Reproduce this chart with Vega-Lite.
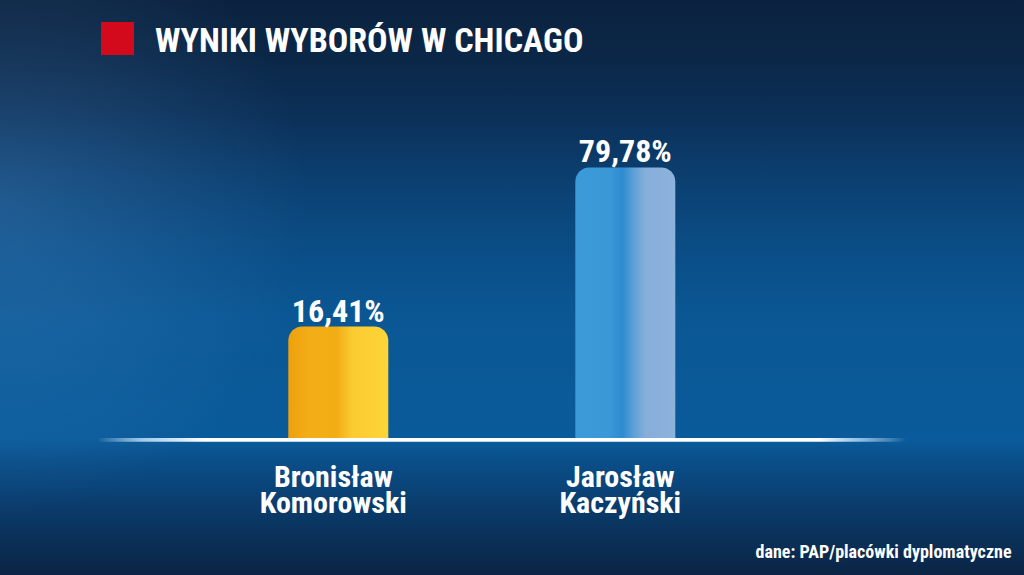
{
  "$schema": "https://vega.github.io/schema/vega-lite/v6.json",
  "width": 1024,
  "height": 575,
  "autosize": "none",
  "padding": 0,
  "background": "#0a2850",
  "title": {
    "text": "WYNIKI WYBORÓW W CHICAGO",
    "anchor": "start",
    "frame": "group",
    "offset": -86,
    "baseline": "alphabetic",
    "dx": 155,
    "font": "Roboto Condensed, DejaVu Sans Condensed, sans-serif",
    "fontSize": 34,
    "fontWeight": "bold",
    "color": "#ffffff"
  },
  "config": {
    "view": {"stroke": null},
    "axisX": {
      "domain": false,
      "ticks": false,
      "grid": false
    }
  },
  "data": {
    "values": [
      {"name": "Bronisław Komorowski", "pct": 16.41, "label": "16,41%"},
      {"name": "Jarosław Kaczyński", "pct": 79.78, "label": "79,78%"}
    ]
  },
  "layer": [
    {
      "data": {"values": [{"part": "background"}]},
      "mark": {
        "type": "rect",
        "fill": {
          "x1": 0, "y1": 0, "x2": 0, "y2": 1,
          "gradient": "linear",
          "stops": [
            {"offset": 0, "color": "#0b223f"},
            {"offset": 0.1, "color": "#0b2747"},
            {"offset": 0.2, "color": "#0b3058"},
            {"offset": 0.3, "color": "#0b3e6e"},
            {"offset": 0.42, "color": "#0a4c84"},
            {"offset": 0.55, "color": "#0a5794"},
            {"offset": 0.765, "color": "#0a5b9b"},
            {"offset": 0.8, "color": "#0a4f8a"},
            {"offset": 0.88, "color": "#0a3c6c"},
            {"offset": 1, "color": "#0a2444"}
          ]
        }
      },
      "encoding": {}
    },
    {
      "data": {"values": [{"part": "glow"}]},
      "mark": {
        "type": "rect",
        "fill": {
          "gradient": "radial",
          "x1": 0.0, "y1": 0.42, "r1": 0,
          "x2": 0.0, "y2": 0.42, "r2": 0.3,
          "stops": [
            {"offset": 0, "color": "rgba(110,170,230,0.22)"},
            {"offset": 1, "color": "rgba(110,170,230,0)"}
          ]
        }
      },
      "encoding": {}
    },
    {
      "transform": [{"filter": "datum.name === 'Bronisław Komorowski'"}],
      "mark": {
        "type": "bar",
        "cornerRadiusTopLeft": 14,
        "cornerRadiusTopRight": 14,
        "fill": {
          "x1": 0, "y1": 0, "x2": 1, "y2": 0,
          "gradient": "linear",
          "stops": [
            {"offset": 0, "color": "#eea00e"},
            {"offset": 0.2, "color": "#f3ad16"},
            {"offset": 0.48, "color": "#f2ac14"},
            {"offset": 0.64, "color": "#fbcb32"},
            {"offset": 1, "color": "#fdd537"}
          ]
        }
      },
      "encoding": {
        "x": {
          "field": "name", "type": "nominal", "sort": null,
          "scale": {"domain": ["Bronisław Komorowski", "Jarosław Kaczyński"], "range": [1.3, 962.3], "paddingInner": 0.6516, "paddingOuter": 1, "align": 0.5},
          "axis": {
            "orient": "bottom", "offset": -135, "labelAngle": 0, "zindex": 1,
            "labelExpr": "split(datum.label, ' ')",
            "labelFont": "Roboto Condensed, DejaVu Sans Condensed, sans-serif",
            "labelFontSize": 30, "labelFontWeight": "bold", "labelColor": "#ffffff",
            "labelPadding": 22, "labelLineHeight": 26, "labelLimit": 0, "labelOffset": -5,
            "title": "dane: PAP/placówki dyplomatyczne",
            "titleFont": "Roboto Condensed, DejaVu Sans Condensed, sans-serif",
            "titleFontSize": 18, "titleFontWeight": "bold", "titleColor": "#ffffff",
            "titleX": 1011, "titleY": 117, "titleAlign": "right", "titleBaseline": "alphabetic", "titleAnchor": "end"
          }
        },
        "y": {
          "field": "pct", "type": "quantitative",
          "scale": {"type": "pow", "exponent": 0.554, "domain": [-22.44, 189.4], "nice": false, "zero": false},
          "axis": null
        },
        "y2": {"datum": 0}
      }
    },
    {
      "transform": [{"filter": "datum.name === 'Jarosław Kaczyński'"}],
      "mark": {
        "type": "bar",
        "cornerRadiusTopLeft": 14,
        "cornerRadiusTopRight": 14,
        "fill": {
          "x1": 0, "y1": 0, "x2": 1, "y2": 0,
          "gradient": "linear",
          "stops": [
            {"offset": 0, "color": "#3b9ad8"},
            {"offset": 0.35, "color": "#3a98d6"},
            {"offset": 0.47, "color": "#2d8cd1"},
            {"offset": 0.58, "color": "#5c9fd6"},
            {"offset": 0.7, "color": "#86aed9"},
            {"offset": 1, "color": "#8db3dc"}
          ]
        }
      },
      "encoding": {
        "x": {
          "field": "name", "type": "nominal", "sort": null,
          "scale": {"domain": ["Bronisław Komorowski", "Jarosław Kaczyński"], "range": [1.3, 962.3], "paddingInner": 0.6516, "paddingOuter": 1, "align": 0.5},
          "axis": {
            "orient": "bottom", "offset": -135, "labelAngle": 0, "zindex": 1,
            "labelExpr": "split(datum.label, ' ')",
            "labelFont": "Roboto Condensed, DejaVu Sans Condensed, sans-serif",
            "labelFontSize": 30, "labelFontWeight": "bold", "labelColor": "#ffffff",
            "labelPadding": 22, "labelLineHeight": 26, "labelLimit": 0, "labelOffset": -5,
            "title": "dane: PAP/placówki dyplomatyczne",
            "titleFont": "Roboto Condensed, DejaVu Sans Condensed, sans-serif",
            "titleFontSize": 18, "titleFontWeight": "bold", "titleColor": "#ffffff",
            "titleX": 1011, "titleY": 117, "titleAlign": "right", "titleBaseline": "alphabetic", "titleAnchor": "end"
          }
        },
        "y": {
          "field": "pct", "type": "quantitative",
          "scale": {"type": "pow", "exponent": 0.554, "domain": [-22.44, 189.4], "nice": false, "zero": false},
          "axis": null
        },
        "y2": {"datum": 0}
      }
    },
    {
      "data": {"values": [{"part": "baseline"}]},
      "mark": {
        "type": "rect",
        "fill": {
          "x1": 0, "y1": 0, "x2": 1, "y2": 0,
          "gradient": "linear",
          "stops": [
            {"offset": 0, "color": "rgba(255,255,255,0)"},
            {"offset": 0.095, "color": "rgba(255,255,255,0)"},
            {"offset": 0.14, "color": "rgba(200,230,255,0.8)"},
            {"offset": 0.2, "color": "#ffffff"},
            {"offset": 0.8, "color": "#ffffff"},
            {"offset": 0.84, "color": "rgba(200,230,255,0.7)"},
            {"offset": 0.885, "color": "rgba(255,255,255,0)"},
            {"offset": 1, "color": "rgba(255,255,255,0)"}
          ]
        }
      },
      "encoding": {
        "y": {"datum": 0.012, "type": "quantitative", "axis": null},
        "y2": {"datum": -0.008}
      }
    },
    {
      "mark": {
        "type": "text",
        "font": "Roboto Condensed, DejaVu Sans Condensed, sans-serif",
        "fontSize": 32,
        "fontWeight": "bold",
        "color": "#ffffff",
        "baseline": "alphabetic",
        "dy": -5
      },
      "encoding": {
        "x": {
          "field": "name", "type": "nominal", "sort": null,
          "scale": {"domain": ["Bronisław Komorowski", "Jarosław Kaczyński"], "range": [1.3, 962.3], "paddingInner": 0.6516, "paddingOuter": 1, "align": 0.5},
          "axis": {
            "orient": "bottom", "offset": -135, "labelAngle": 0, "zindex": 1,
            "labelExpr": "split(datum.label, ' ')",
            "labelFont": "Roboto Condensed, DejaVu Sans Condensed, sans-serif",
            "labelFontSize": 30, "labelFontWeight": "bold", "labelColor": "#ffffff",
            "labelPadding": 22, "labelLineHeight": 26, "labelLimit": 0, "labelOffset": -5,
            "title": "dane: PAP/placówki dyplomatyczne",
            "titleFont": "Roboto Condensed, DejaVu Sans Condensed, sans-serif",
            "titleFontSize": 18, "titleFontWeight": "bold", "titleColor": "#ffffff",
            "titleX": 1011, "titleY": 117, "titleAlign": "right", "titleBaseline": "alphabetic", "titleAnchor": "end"
          }
        },
        "y": {"field": "pct", "type": "quantitative", "axis": null},
        "text": {"field": "label"}
      }
    },
    {
      "data": {"values": [{"marker": "znak"}]},
      "mark": {"type": "square", "opacity": 0},
      "encoding": {
        "color": {
          "field": "marker", "type": "nominal",
          "scale": {"range": ["#d20a1c"]},
          "legend": {
            "orient": "none", "legendX": 101, "legendY": 22,
            "title": null, "symbolType": "square", "symbolSize": 1089,
            "symbolOpacity": 1, "symbolStrokeWidth": 0, "symbolFillColor": "#d20a1c",
            "labelExpr": "''", "padding": 0, "symbolOffset": 0, "labelOffset": 0
          }
        }
      }
    }
  ]
}
